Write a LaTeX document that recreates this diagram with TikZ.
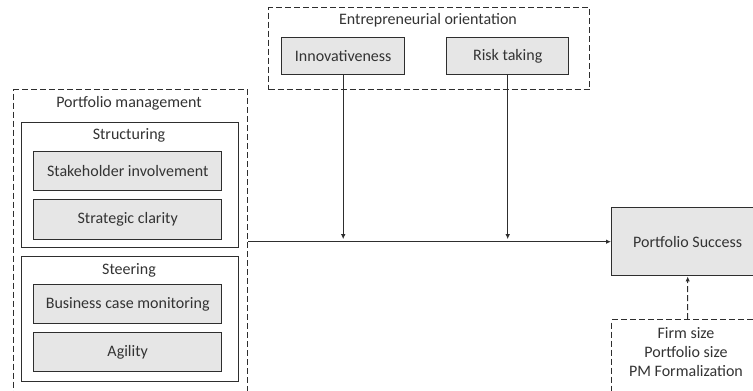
\documentclass[tikz,border=0pt]{standalone}
\usepackage{fontspec}
\setmainfont{Carlito}
\usetikzlibrary{arrows.meta}

\definecolor{boxfill}{HTML}{E6E6E6}
\definecolor{linegray}{HTML}{2E2E2E}
\definecolor{textgray}{HTML}{333333}

\begin{document}
\begin{tikzpicture}[x=1pt,y=-1pt,
    font=\fontsize{16}{19}\selectfont, text=textgray,
    group/.style={draw=linegray, dash pattern=on 6pt off 3pt, line width=1.1pt,
      inner sep=0pt, anchor=north west},
    frame/.style={draw=linegray, line width=1.4pt, inner sep=0pt, anchor=north west},
    item/.style={draw=linegray, fill=boxfill, line width=1.4pt, inner sep=0pt,
      anchor=north west},
    link/.style={draw=linegray, line width=1pt, -{Latex[length=5pt,width=4.5pt]}}]
            \useasboundingbox (0,0) rectangle (753,391);
            \clip (0,0) rectangle (753,391);

            % Portfolio management group
            \node [group, minimum width=234pt, minimum height=311pt] (pm) at (13,89) {};%
            \node (pmtitle) at (129,103) {Portfolio management};%

            % Structuring block
            \node [frame, minimum width=217pt, minimum height=125pt] (struct) at (21,122) {};%
            \node (structtitle) at (129,135) {Structuring};%
            \node [item, minimum width=188pt, minimum height=39pt] (stake) at (33,151) {Stakeholder involvement};%
            \node [item, minimum width=188pt, minimum height=40pt] (clarity) at (33,199) {Strategic clarity};%

            % Steering block
            \node [frame, minimum width=217pt, minimum height=125pt] (steer) at (21,256) {};%
            \node (steertitle) at (129,270) {Steering};%
            \node [item, minimum width=188pt, minimum height=39pt] (bcm) at (33,284) {Business case monitoring};%
            \node [item, minimum width=188pt, minimum height=39pt] (agility) at (33,332) {Agility};%

            % Entrepreneurial orientation group
            \node [group, minimum width=321pt, minimum height=82pt] (eo) at (268,7) {};%
            \node (eotitle) at (428,20) {Entrepreneurial orientation};%
            \node [item, minimum width=123pt, minimum height=37pt] (inno) at (281,37) {Innovativeness};%
            \node [item, minimum width=122pt, minimum height=37pt] (risk) at (446,37) {Risk taking};%

            % Outcome
            \node [item, minimum width=152pt, minimum height=68pt] (ps) at (611,207) {Portfolio Success};%

            % Controls
            \node [group, minimum width=152pt, minimum height=80pt] (ctrl) at (611,319) {};%
            \node [align=center] (ctrltext) at (686,352) {Firm size\\Portfolio size\\PM Formalization};%

            % Drawing main effect
            \draw [link] (pm.east |- ps.west) -- (ps.west);%

            % Drawing moderators
            \draw [link, shorten >=2.5pt] (inno.south) -- (inno.south |- ps.west);%
            \draw [link, shorten >=2.5pt] (risk.south) -- (risk.south |- ps.west);%

            % Drawing controls
            \draw [link, dash pattern=on 6pt off 3pt] (ctrl.north) -- (ps.south);%
\end{tikzpicture}
\end{document}
